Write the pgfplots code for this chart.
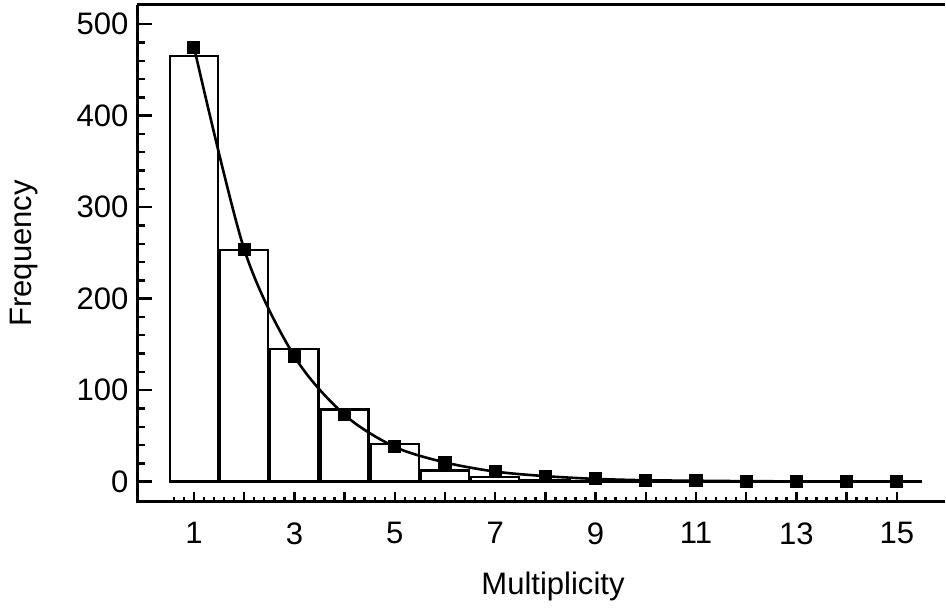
\documentclass[border=0pt]{standalone}
\usepackage{pgfplots}
\pgfplotsset{compat=1.18}
\usepackage{fontspec}
\setmainfont{Liberation Sans}

\begin{document}
\fontsize{15.5}{18}\selectfont
\begin{tikzpicture}
\begin{axis}[
    scale only axis,
    width=403pt, height=248pt,
    xmin=-0.13, xmax=15.95,
    ymin=-22, ymax=521,
    axis line style={draw=none},
    xtick={1,...,15},
    xticklabels={1,,3,,5,,7,,9,,11,,13,,15},
    minor xtick={0.6,0.8,1.2,1.4,1.6,1.8,2.2,2.4,2.6,2.8,3.2,3.4,3.6,3.8,4.2,4.4,4.6,4.8,5.2,5.4,5.6,5.8,6.2,6.4,6.6,6.8,7.2,7.4,7.6,7.8,8.2,8.4,8.6,8.8,9.2,9.4,9.6,9.8,10.2,10.4,10.6,10.8,11.2,11.4,11.6,11.8,12.2,12.4,12.6,12.8,13.2,13.4,13.6,13.8,14.2,14.4,14.6,14.8},
    ytick={0,100,...,500},
    minor y tick num=4,
    xtick pos=bottom, ytick pos=left,
    tick align=inside,
    tick style={black, line width=1.2pt},
    x tick style={/pgfplots/major tick length=5pt, /pgfplots/minor tick length=2.6pt},
    y tick style={/pgfplots/major tick length=7.5pt, /pgfplots/minor tick length=4pt},
    /pgf/number format/assume math mode=true,
    xticklabel shift=5pt,
    yticklabel shift=-1pt,
    xlabel={Multiplicity},
    ylabel={Frequency},
    xlabel style={at={(axis description cs:0.515,-0.17)}, anchor=center},
    ylabel style={at={(axis description cs:-0.14,0.5)}, anchor=center},
    clip=false,
]
\addplot[ybar, bar width=0.96, fill=white, draw=black, line width=1.2pt]
  coordinates {(1,465) (2,253) (3,145) (4,79) (5,41) (6,12) (7,5) (8,2)
               (9,1) (10,1) (11,0.5) (12,0.5) (13,0.3) (14,0.3) (15,0.2)};
\addplot[black, line width=1.3pt, smooth, mark=square*, mark size=2.6pt]
  coordinates {(1,475) (2,254) (3,137) (4,73) (5,38) (6,21) (7,11) (8,6)
               (9,3) (10,1.5) (11,1) (12,0.5) (13,0.3) (14,0.2) (15,0.1)};
\addplot[black, line width=1.3pt] coordinates {(15,0.1) (15.5,0)};
\draw[line width=1.5pt] (rel axis cs:0,1) -- (rel axis cs:1,1);
\draw[line width=1.5pt] (rel axis cs:0,1) -- (rel axis cs:0,0) -- (rel axis cs:1,0);
\end{axis}
\path ([yshift=2.5pt]current axis.north west) -- ++(1pt,0);
\end{tikzpicture}
\end{document}
